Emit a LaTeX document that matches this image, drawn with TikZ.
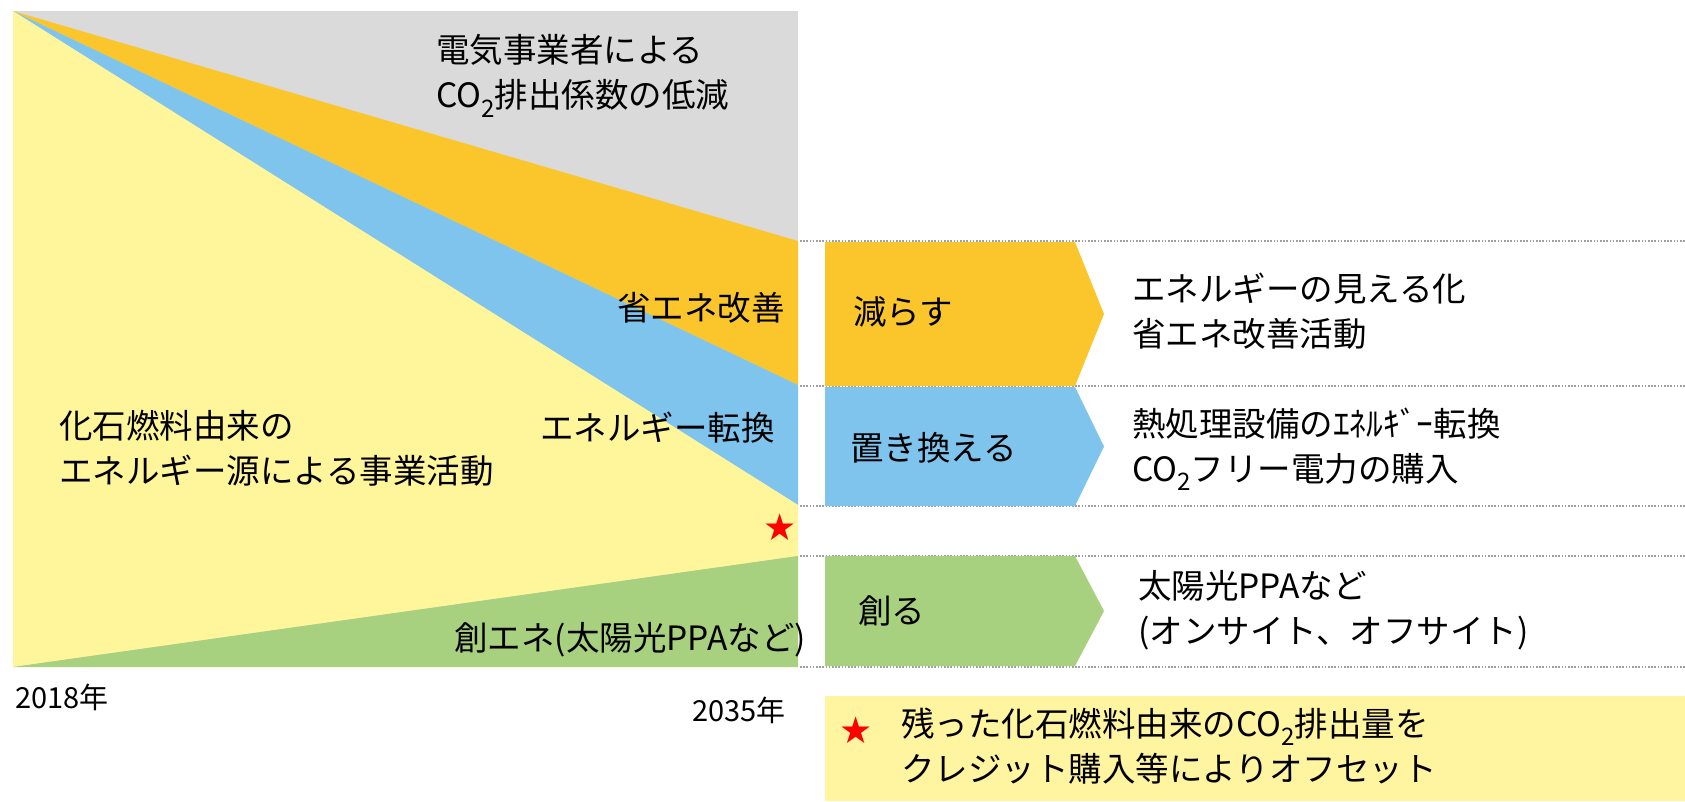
\documentclass[tikz,border=0pt]{standalone}
\usepackage{fontspec}
\setmainfont{Noto Sans CJK JP}
\newfontfamily\symfont{DejaVu Sans}
\newcommand{\cotwo}{CO\raisebox{-0.28em}{\scalebox{0.72}{2}}}
\definecolor{cgray}{HTML}{DADADA}
\definecolor{corange}{HTML}{FBC62B}
\definecolor{cblue}{HTML}{7EC4ED}
\definecolor{cyellow}{HTML}{FFF59B}
\definecolor{cgreen}{HTML}{A8D17F}
\definecolor{clegend}{HTML}{FFF4A0}
\definecolor{cdot}{HTML}{A0A0A0}
\begin{document}
\begin{tikzpicture}[x=1pt,y=-1pt,
  txt/.style={font=\fontsize{33.5}{45}\selectfont, inner sep=0pt, align=left, text=black},
  yeartxt/.style={font=\fontsize{29}{32}\selectfont, inner sep=0pt, text=black},
  redstar/.style={font=\symfont\fontsize{37}{37}\selectfont, inner sep=0pt, text=red},
  guide/.style={draw=cdot, line width=1.6pt, dash pattern=on 1.6pt off 1.6pt}
]
\useasboundingbox (0,0) rectangle (1685,801);
\fill[white] (0,0) rectangle (1685,801);

% chart areas
\coordinate (apex) at (13,11);
\coordinate (bl) at (13,667);
\coordinate (br) at (798,667);
\coordinate (r1) at (798,241);
\coordinate (r2) at (798,385);
\coordinate (r3) at (798,505);
\coordinate (r4) at (798,556);
\fill[cgray] (13,11) rectangle (798,667);
\fill[corange] (apex) -- (r1) -- (r2) -- cycle;
\fill[cblue] (apex) -- (r2) -- (r3) -- cycle;
\fill[cyellow] (apex) -- (r3) -- (r4) -- (bl) -- cycle;
\fill[cgreen] (bl) -- (r4) -- (br) -- cycle;

% guide lines
\foreach \yy in {241,386,506,556,667}
  \draw[guide] (800,\yy) -- (1685,\yy);

% chevrons
\fill[corange] (825,242) -- (1075,242) -- (1104,314) -- (1075,386) -- (825,386) -- cycle;
\fill[cblue] (825,387) -- (1075,387) -- (1104,446.5) -- (1075,506) -- (825,506) -- cycle;
\fill[cgreen] (825,556) -- (1075,556) -- (1104,611) -- (1075,666) -- (825,666) -- cycle;

% legend box
\fill[clegend] (825,696) rectangle (1685,801);

% chart labels
\node[txt, anchor=west] (grid) at (436,76) {電気事業者による\\\cotwo 排出係数の低減};
\node[txt, anchor=east] (shoene) at (785,308) {省エネ改善};
\node[txt, anchor=west] (fossil) at (59,448) {化石燃料由来の\\エネルギー源による事業活動};
\node[txt, anchor=east] (tenkan) at (775,428) {エネルギー転換};
\node[redstar] (star1) at (780,527) {★};
\node[txt, anchor=east] (souene) at (806,640) {創エネ(太陽光PPAなど)};
\node[yeartxt, anchor=west] (y2018) at (15,697) {2018年};
\node[yeartxt, anchor=west] (y2035) at (692,710) {2035年};

% chevron labels
\node[txt, anchor=west] (herasu) at (853,312) {減らす};
\node[txt, anchor=west] (okikae) at (850,448) {置き換える};
\node[txt, anchor=west] (tsukuru) at (858,611) {創る};

% descriptions
\node[txt, anchor=west] (d1) at (1132,311) {エネルギーの見える化\\省エネ改善活動};
\node[txt, anchor=west] (d2) at (1132,449) {熱処理設備のｴﾈﾙｷﾞｰ転換\\\cotwo フリー電力の購入};
\node[txt, anchor=west] (d3) at (1138,610) {太陽光PPAなど\\(オンサイト、オフサイト)};

% legend
\node[redstar] (star2) at (856,730) {★};
\node[txt, anchor=west] (leg) at (901,746) {残った化石燃料由来の\cotwo 排出量を\\クレジット購入等によりオフセット};
\end{tikzpicture}
\end{document}
